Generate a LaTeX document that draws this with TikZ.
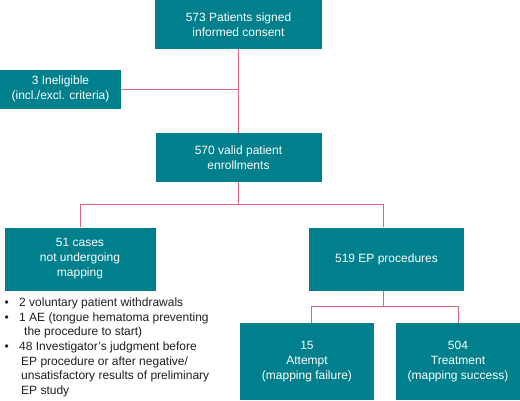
\documentclass[tikz,border=0pt]{standalone}
\usepackage{fontspec}
\setmainfont{Liberation Sans}
\definecolor{teal1}{RGB}{0,128,140}
\definecolor{link}{RGB}{220,100,125}
\definecolor{ink}{RGB}{30,30,30}
\begin{document}
\begin{tikzpicture}[x=1pt,y=-1pt,
  box/.style={fill=teal1, draw=none, text=white, align=center, inner sep=0pt,
    font=\fontsize{12}{15}\selectfont},
  conn/.style={draw=link, line width=0.9pt}]
\useasboundingbox (0,0) rectangle (520,400);
\node[box, minimum width=167pt, minimum height=49pt] (b1) at (238.5,24.5) {573 Patients signed\\informed consent};
\node[box, minimum width=121pt, minimum height=39pt] (inel) at (60.5,89) {3 Ineligible\\(incl./excl. criteria)};
\node[box, minimum width=166pt, minimum height=49pt] (b2) at (238.5,157.5) {570 valid patient\\enrollments};
\node[box, minimum width=151pt, minimum height=63pt] (b51) at (80,259) {51 cases\\not undergoing\\mapping};
\node[box, minimum width=155pt, minimum height=63pt] (b519) at (386.5,259) {519 EP procedures};
\node[box, minimum width=134pt, minimum height=77pt] (b15) at (307,361.5) {15\\Attempt\\(mapping failure)};
\node[box, minimum width=124pt, minimum height=77pt] (b504) at (458,361.5) {504\\Treatment\\(mapping success)};
\coordinate (s1) at (238.5,204.3);
\coordinate (s2) at (383,306.7);
\draw[conn] (b1.south) -- (b2.north);
\draw[conn] (inel.east) -- (b1.south |- inel.east);
\draw[conn] (b2.south) -- (s1);
\draw[conn] (s1) -| (b51.north);
\draw[conn] (s1) -| ([xshift=-3.5pt]b519.north);
\draw[conn] ([xshift=-3.5pt]b519.south) -- (s2);
\draw[conn] (s2) -| ([xshift=4pt]b15.north);
\draw[conn] (s2) -| (b504.north);
\node[anchor=base west, inner sep=0pt, text=ink, font=\fontsize{12}{14.6}\selectfont] (notes) at (4.5,306.6)
{\begin{tabular}[t]{@{}l@{\hspace{10.3pt}}l@{}}
•& 2 voluntary patient withdrawals\\
•& 1 AE (tongue hematoma preventing\\
 & \hspace{5pt}the procedure to start)\\
•& 48 Investigator’s judgment before\\
 & \hspace{2pt}EP procedure or after negative/\\
 & \hspace{2pt}unsatisfactory results of preliminary\\
 & \hspace{2pt}EP study
\end{tabular}};
\end{tikzpicture}
\end{document}
